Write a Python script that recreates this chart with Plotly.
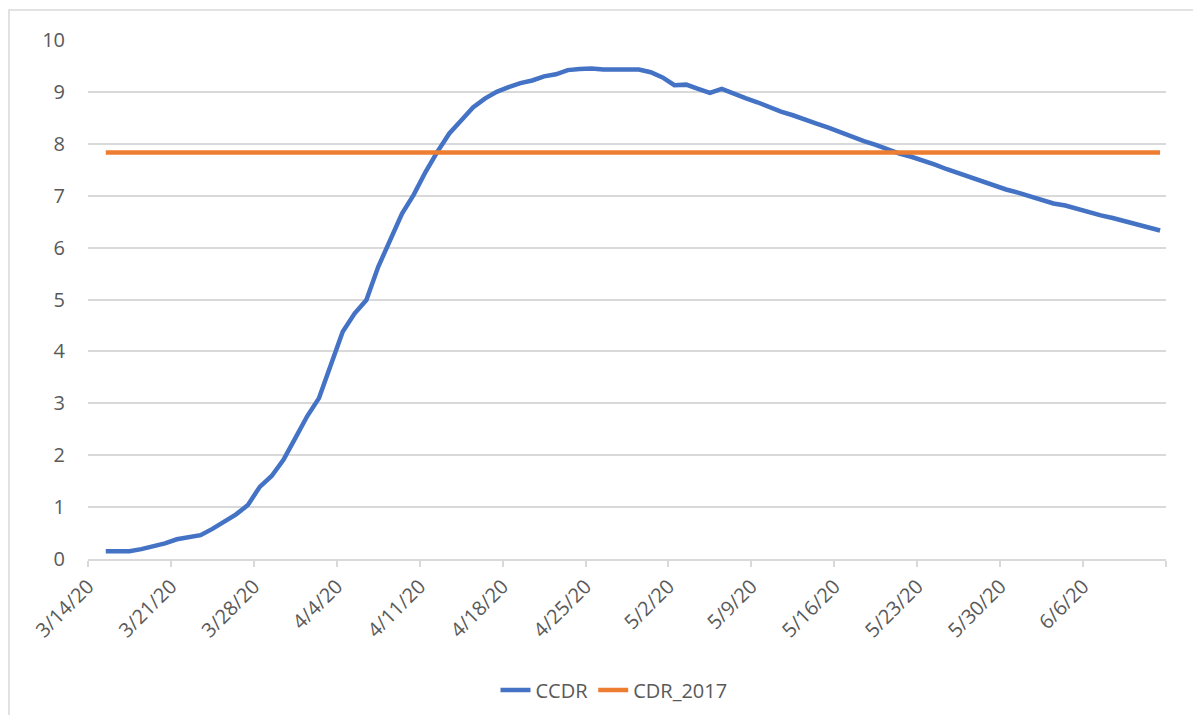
import pandas as pd
import plotly.graph_objects as go

# Daily dates (plotted at mid-day, as in Excel date axis)
dates = pd.date_range("2020-03-15", periods=90, freq="D") + pd.Timedelta(hours=12)

ccdr = [0.15, 0.16, 0.15, 0.19, 0.24, 0.30, 0.38, 0.42, 0.46, 0.58,
        0.72, 0.86, 1.04, 1.39, 1.60, 1.91, 2.33, 2.75, 3.10, 3.77,
        4.38, 4.73, 4.99, 5.63, 6.15, 6.65, 7.02, 7.46, 7.85, 8.20,
        8.45, 8.70, 8.87, 9.00, 9.09, 9.17, 9.22, 9.30, 9.34, 9.42,
        9.44, 9.45, 9.43, 9.43, 9.41, 9.43, 9.38, 9.28, 9.13, 9.14,
        9.06, 8.98, 9.06, 8.96, 8.88, 8.80, 8.70, 8.62, 8.55, 8.48,
        8.39, 8.31, 8.22, 8.14, 8.05, 7.98, 7.89, 7.81, 7.75, 7.68,
        7.60, 7.51, 7.43, 7.36, 7.27, 7.19, 7.12, 7.06, 6.99, 6.92,
        6.85, 6.81, 6.74, 6.68, 6.62, 6.57, 6.51, 6.45, 6.38, 6.33]
cdr_2017_value = 7.83
cdr_2017 = [cdr_2017_value] * len(ccdr)

tick_dates = ["2020-03-14", "2020-03-21", "2020-03-28", "2020-04-04", "2020-04-11",
              "2020-04-18", "2020-04-25", "2020-05-02", "2020-05-09", "2020-05-16",
              "2020-05-23", "2020-05-30", "2020-06-06", "2020-06-13"]
tick_labels = ["3/14/20", "3/21/20", "3/28/20", "4/4/20", "4/11/20", "4/18/20",
               "4/25/20", "5/2/20", "5/9/20", "5/16/20", "5/23/20", "5/30/20",
               "6/6/20", ""]

FONT = "Open Sans"
TXT = "#595959"
GRID = "#d9d9d9"
FS = 20

W, H = 1185, 707
L, R, T, B = 80, 27, 32, 156
PW, PH = W - L - R, H - T - B

fig = go.Figure()
fig.add_trace(go.Scatter(x=dates, y=ccdr, mode="lines", name="CCDR",
                         line=dict(color="#4472C4", width=4.5)))
fig.add_trace(go.Scatter(x=dates, y=cdr_2017, mode="lines", name="CDR_2017",
                         line=dict(color="#ED7D31", width=4.5)))

fig.update_layout(
    width=W, height=H,
    margin=dict(l=L, r=R, t=T, b=B, autoexpand=False),
    paper_bgcolor="white", plot_bgcolor="white",
    font=dict(family=FONT, size=FS, color=TXT),
    showlegend=True,
    legend=dict(orientation="h", x=(606 - L) / PW, xanchor="center",
                y=(H - B - 682) / PH, yanchor="middle",
                font=dict(family=FONT, size=FS, color=TXT),
                traceorder="normal"),
    xaxis=dict(type="date", range=["2020-03-14", "2020-06-13"], automargin=False,
               tickmode="array", tickvals=tick_dates, ticktext=tick_labels,
               tickangle=-45, ticks="outside", ticklen=6, tickcolor=GRID, tickwidth=1.5,
               showgrid=False, showline=True, linecolor=GRID, linewidth=1.5,
               zeroline=False, tickfont=dict(family=FONT, size=FS, color=TXT)),
    yaxis=dict(range=[0, 10], tickmode="linear", tick0=0, dtick=1, automargin=False,
               showgrid=True, gridcolor=GRID, gridwidth=1.5, zeroline=False,
               showline=False, ticks="", ticklabelstandoff=22,
               tickfont=dict(family=FONT, size=FS, color=TXT)),
    shapes=[dict(type="rect", xref="paper", yref="paper",
                 x0=(1 - L) / PW, x1=(1200 - L) / PW,
                 y0=(H - B - 720) / PH, y1=(H - B - 2) / PH,
                 line=dict(color=GRID, width=1.5), fillcolor="rgba(0,0,0,0)",
                 layer="below")],
)

fig.write_html("out.html")
